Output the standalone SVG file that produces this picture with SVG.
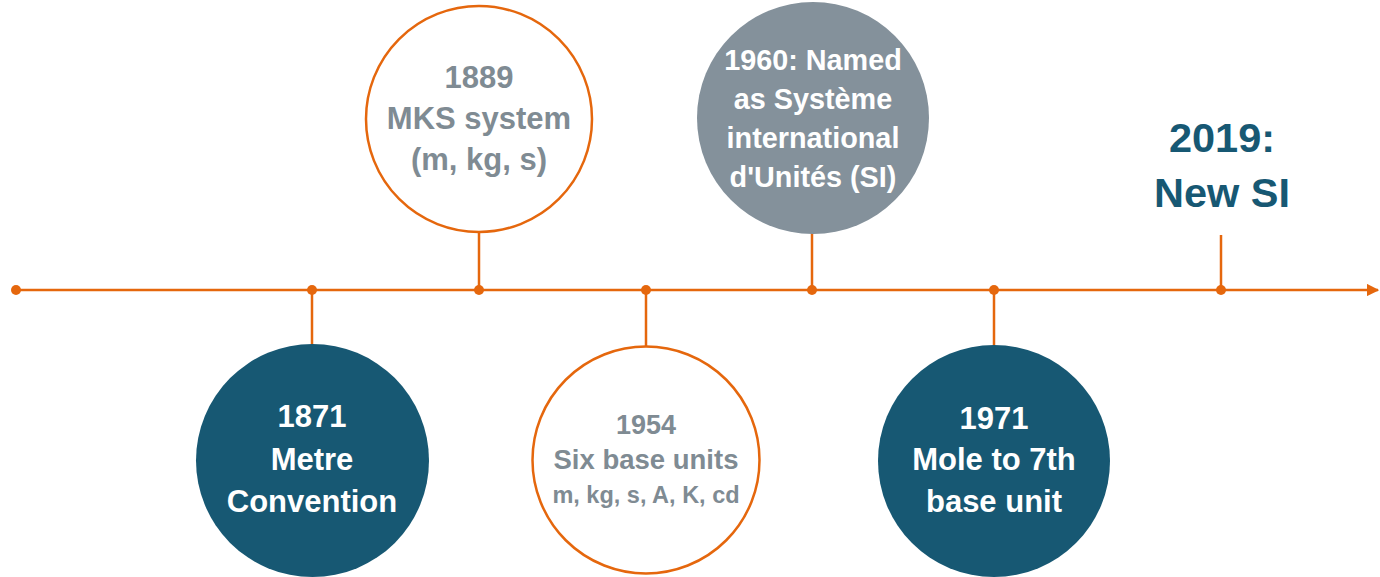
<svg xmlns="http://www.w3.org/2000/svg" width="1380" height="577" viewBox="0 0 1380 577">
  <defs>
    <marker id="arrow" viewBox="0 0 10 10" refX="9" refY="5" markerWidth="5" markerHeight="5" orient="auto" markerUnits="strokeWidth">
      <path d="M0,0 L10,5 L0,10 Z" fill="#E5670D"/>
    </marker>
    <style>
      .axis { stroke: #E5670D; stroke-width: 2.5; fill: none; }
      .stem { stroke: #E5670D; stroke-width: 2.5; fill: none; }
      .dot { fill: #E5670D; }
      .ring { fill: #ffffff; stroke: #E5670D; stroke-width: 2.5; }
      .teal { fill: #175873; }
      .slate { fill: #84919B; }
      text { font-family: "Liberation Sans", Arial, sans-serif; font-weight: bold; text-anchor: middle; }
      .w { fill: #ffffff; }
      .g { fill: #7F8B93; }
      .big { fill: #175873; font-size: 41.5px; }
    </style>
  </defs>

  <!-- timeline axis, stems and markers -->
  <g id="connectors">
    <line class="axis" x1="16" y1="290" x2="1378" y2="290" marker-end="url(#arrow)"/>
    <line class="stem" x1="312" y1="290" x2="312" y2="346"/>
    <line class="stem" x1="479" y1="230" x2="479" y2="290"/>
    <line class="stem" x1="646" y1="290" x2="646" y2="347"/>
    <line class="stem" x1="812" y1="232" x2="812" y2="290"/>
    <line class="stem" x1="994" y1="290" x2="994" y2="347"/>
    <line class="stem" x1="1221" y1="235" x2="1221" y2="290"/>
    <circle class="dot" cx="16" cy="290" r="5"/>
    <circle class="dot" cx="312" cy="290" r="5"/>
    <circle class="dot" cx="479" cy="290" r="5"/>
    <circle class="dot" cx="646" cy="290" r="5"/>
    <circle class="dot" cx="812" cy="290" r="5"/>
    <circle class="dot" cx="994" cy="290" r="5"/>
    <circle class="dot" cx="1221" cy="290" r="5"/>
  </g>

  <g id="node-1871">
    <circle class="teal" cx="312.5" cy="460.5" r="116.5"/>
    <text class="w" font-size="31" x="312" y="427">1871</text>
    <text class="w" font-size="31" x="312" y="470">Metre</text>
    <text class="w" font-size="31" x="312" y="512">Convention</text>
  </g>

  <g id="node-1889">
    <circle class="ring" cx="479" cy="119" r="113"/>
    <text class="g" font-size="31" x="479" y="88">1889</text>
    <text class="g" font-size="31" x="479" y="129">MKS system</text>
    <text class="g" font-size="31" x="479" y="170">(m, kg, s)</text>
  </g>

  <g id="node-1954">
    <circle class="ring" cx="646" cy="460" r="113.5"/>
    <text class="g" font-size="27" x="646" y="434">1954</text>
    <text class="g" font-size="27.5" x="646" y="469">Six base units</text>
    <text class="g" font-size="23.5" x="646" y="503">m, kg, s, A, K, cd</text>
  </g>

  <g id="node-1960">
    <circle class="slate" cx="813" cy="118" r="116"/>
    <text class="w" font-size="28.8" x="813" y="70">1960: Named</text>
    <text class="w" font-size="28.8" x="813" y="109">as Système</text>
    <text class="w" font-size="28.8" x="813" y="148">international</text>
    <text class="w" font-size="28.8" x="813" y="187">d'Unités (SI)</text>
  </g>

  <g id="node-1971">
    <circle class="teal" cx="994" cy="461" r="116"/>
    <text class="w" font-size="31" x="994" y="429">1971</text>
    <text class="w" font-size="31" x="994" y="470">Mole to 7th</text>
    <text class="w" font-size="31" x="994" y="512">base unit</text>
  </g>

  <g id="node-2019">
    <text class="big" x="1222" y="152">2019:</text>
    <text class="big" x="1222" y="207">New SI</text>
  </g>
</svg>
